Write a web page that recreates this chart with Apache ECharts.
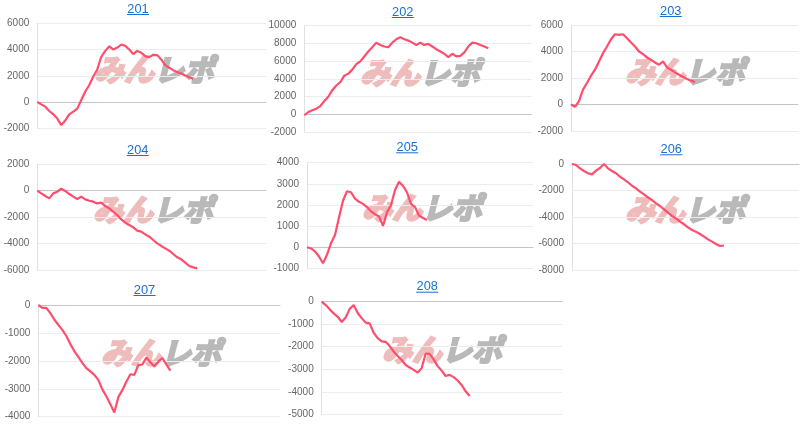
<!DOCTYPE html>
<html>
<head>
<meta charset="utf-8">
<style>
html,body{margin:0;padding:0;background:#fff;}
#chart{width:800px;height:426px;}
</style>
<script src="https://cdn.jsdelivr.net/npm/echarts@6/dist/echarts.min.js"></script>
</head>
<body>
<div id="chart"></div>
<script>
// ---- data ----
const titles = ['201', '202', '203', '204', '205', '206', '207', '208'];

const s201 = [0, -180, -350, -680, -935, -1260, -1760, -1400, -935, -730, -500, 150, 800, 1300, 1950, 2485, 3450, 3900, 4250, 4005, 4150, 4385, 4280, 4000, 3650, 3900, 3750, 3500, 3420, 3600, 3575, 3245, 2810, 2610, 2430, 2280, 2180, 2030, 1900, 1780];
const s202 = [-110, 260, 450, 630, 930, 1490, 1980, 2720, 3250, 3620, 4360, 4590, 5040, 5670, 5970, 6530, 7090, 7570, 8090, 7830, 7650, 7570, 8090, 8470, 8690, 8470, 8320, 8090, 7830, 8090, 7830, 7950, 7650, 7350, 7090, 6830, 6450, 6830, 6530, 6600, 6980, 7650, 8090, 8020, 7830, 7650, 7460];
const s203 = [0, -175, 250, 1125, 1625, 2175, 2625, 3250, 3875, 4375, 4925, 5300, 5250, 5300, 5000, 4675, 4375, 4000, 3800, 3550, 3375, 3175, 3000, 3250, 2800, 2625, 2425, 2250, 2075, 1925, 1800, 1700];
const s204 = [0, -200, -400, -580, -200, -75, 150, -20, -250, -450, -630, -450, -655, -755, -830, -960, -900, -1160, -1335, -1590, -1840, -2170, -2420, -2600, -2770, -3020, -3100, -3300, -3480, -3730, -3980, -4180, -4360, -4540, -4790, -5040, -5190, -5440, -5700, -5800, -5880];
const s205 = [0, -60, -200, -440, -760, -360, 190, 580, 1400, 2200, 2650, 2600, 2300, 2150, 2050, 1900, 1700, 1560, 1450, 1010, 1650, 2000, 2700, 3100, 2900, 2600, 2050, 1900, 1500, 1380, 1290];
const s206 = [0, -75, -330, -530, -700, -780, -500, -300, 0, -330, -530, -700, -960, -1160, -1380, -1640, -1840, -2090, -2290, -2520, -2720, -2970, -3170, -3420, -3670, -3920, -4100, -4350, -4550, -4780, -4980, -5110, -5280, -5480, -5690, -5860, -6040, -6190, -6150];
const s207 = [0, -100, -100, -290, -520, -710, -890, -1110, -1400, -1650, -1860, -2070, -2260, -2380, -2500, -2680, -3020, -3270, -3550, -3850, -3300, -3050, -2750, -2480, -2500, -2150, -2130, -1880, -2050, -2200, -2030, -1900, -2130, -2350];
const s208 = [0, -150, -340, -520, -670, -900, -700, -320, -150, -500, -730, -930, -960, -1380, -1620, -1760, -1780, -1970, -2220, -2410, -2590, -2810, -2920, -3030, -3150, -2950, -2300, -2320, -2560, -2860, -3060, -3300, -3250, -3350, -3500, -3700, -3980, -4190];

const seriesValues = [s201, s202, s203, s204, s205, s206, s207, s208];

// y-axis ranges / tick step
const yMin = [-2000, -2000, -2000, -6000, -1000, -8000, -4000, -5000];
const yMax = [6000, 10000, 6000, 2000, 4000, 0, 0, 0];
const yStep = [2000, 2000, 2000, 2000, 1000, 2000, 1000, 1000];
// x extent of each panel (number of sample steps the axis spans)
const xMax = [57.2, 56.75, 56.75, 57.2, 56.5, 56.75, 60.4, 60.1];

// ---- layout (pixels) ----
const grids = [
  {left: 37.3, top: 23.3, width: 228.7, height: 105},
  {left: 304.3, top: 25.7, width: 227, height: 106.3},
  {left: 571, top: 25, width: 227, height: 106},
  {left: 37.3, top: 164.3, width: 228.7, height: 105.7},
  {left: 307, top: 162.7, width: 226, height: 105.6},
  {left: 572, top: 164, width: 227, height: 106},
  {left: 38.3, top: 305, width: 241.7, height: 111.7},
  {left: 321.7, top: 301.7, width: 240.3, height: 112.6}
];
const titlePos = [[138, 9], [402.8, 12], [670.8, 11], [137.7, 150], [407.2, 147.3], [671.3, 149.3], [144.5, 290], [427.2, 286.7]];
const markPos = [[152, 69.5], [418, 72.5], [683, 71.5], [151, 210], [420, 208], [683, 210], [159, 353], [440, 350]];

const LINE = '#ff4d6d';
const LINK = '#1a6fd4';

const option = {
  animation: false,
  backgroundColor: '#fff',
  grid: grids.map(g => ({left: g.left, top: g.top, width: g.width, height: g.height, containLabel: false})),
  xAxis: grids.map((g, i) => ({
    type: 'value', gridIndex: i, min: 0, max: xMax[i],
    axisLabel: {show: false}, axisTick: {show: false}, splitLine: {show: false},
    axisLine: {show: true, onZero: true, lineStyle: {color: '#c4c4c4', width: 1}}
  })),
  yAxis: grids.map((g, i) => ({
    type: 'value', gridIndex: i, min: yMin[i], max: yMax[i], interval: yStep[i],
    axisLine: {show: true, lineStyle: {color: '#e0e0e0'}},
    axisTick: {show: false},
    axisLabel: {color: '#666', fontSize: 10, fontFamily: 'Arial, "Liberation Sans", sans-serif', margin: 8,
      formatter: v => String(v)},
    splitLine: {show: true, lineStyle: {color: '#ececec', width: 1}}
  })),
  series: seriesValues.map((vals, i) => ({
    type: 'line', xAxisIndex: i, yAxisIndex: i,
    data: vals.map((v, k) => [k, v]),
    showSymbol: false, symbol: 'none', smooth: false, z: 3,
    lineStyle: {color: LINE, width: 2.2},
    itemStyle: {color: LINE}
  })),
  graphic: []
};

function markText(txt, x, y, color, align) {
  return {
    type: 'text', x: x, y: y, z: 0, silent: true,
    style: {
      text: txt, align: align, verticalAlign: 'middle',
      fill: color, stroke: color, lineWidth: 2.4,
      fontSize: 30, fontWeight: 'bold', fontStyle: 'italic',
      fontFamily: '"Noto Sans CJK JP", sans-serif'
    }
  };
}

titles.forEach((t, i) => {
  const [cx, cy] = titlePos[i];
  option.graphic.push({
    type: 'text', x: cx, y: cy, z: 10,
    style: {text: t, fill: LINK, fontSize: 12.8, fontFamily: 'Arial, "Liberation Sans", sans-serif',
      align: 'center', verticalAlign: 'middle'}
  });
  option.graphic.push({
    type: 'line', z: 10,
    shape: {x1: cx - 11, y1: cy + 5.5, x2: cx + 11, y2: cy + 5.5},
    style: {stroke: LINK, lineWidth: 1}
  });
  const [mx, my] = markPos[i];
  option.graphic.push(markText('みん', mx + 2, my, '#efbcbc', 'right'));
  option.graphic.push(markText('レポ', mx + 2, my, '#b9b9b9', 'left'));
});

const chart = echarts.init(document.getElementById('chart'), null, {renderer: 'canvas'});
chart.setOption(option);
</script>
</body>
</html>
